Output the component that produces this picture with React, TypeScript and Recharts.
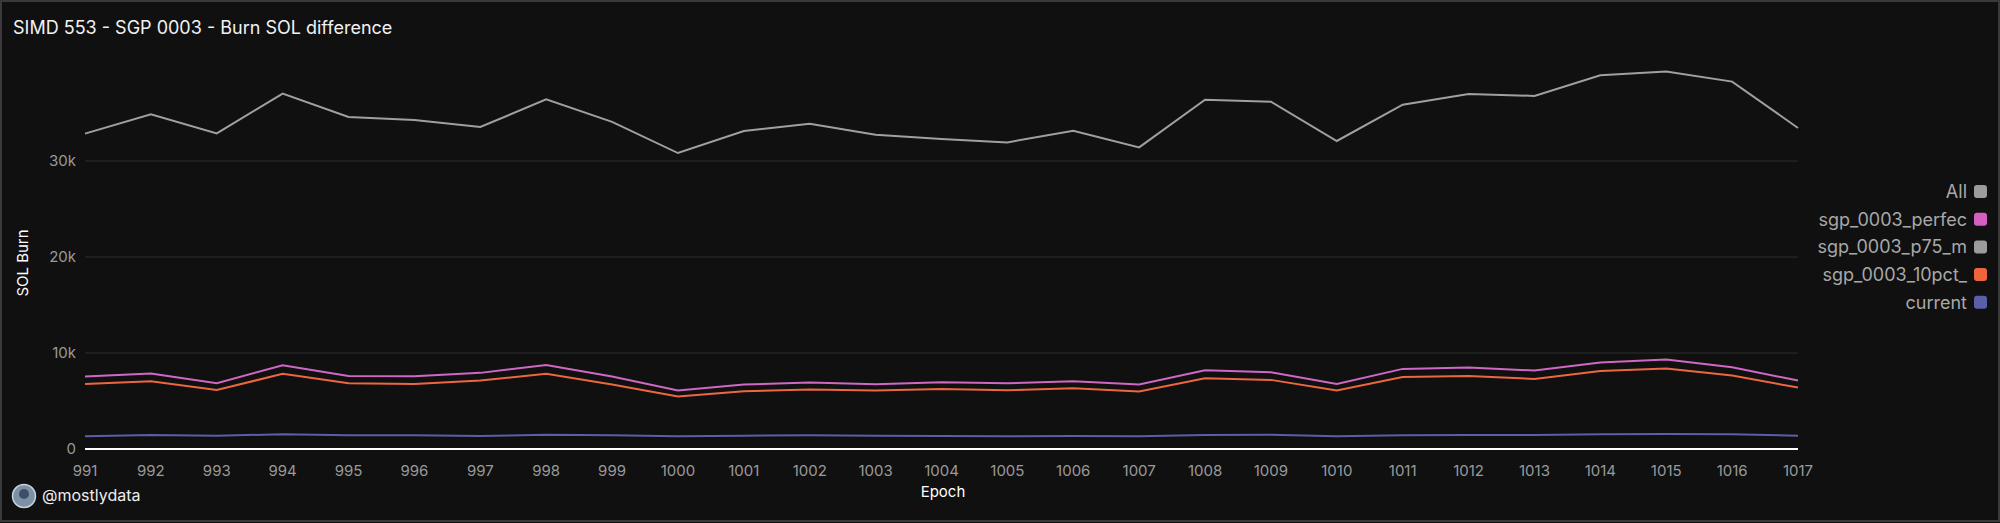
import React from "react";
import { LineChart, Line, XAxis, YAxis, CartesianGrid } from "recharts";

const epochs = ["991","992","993","994","995","996","997","998","999","1000","1001","1002","1003","1004","1005","1006","1007","1008","1009","1010","1011","1012","1013","1014","1015","1016","1017"];
const allBurn = [32850,34860,32880,37020,34590,34270,33540,36420,34070,30830,33130,33890,32740,32290,31940,33160,31420,36390,36180,32085,35870,36990,36780,38930,39310,38270,33440];
const perfectBurn = [7545,7860,6850,8730,7615,7580,7930,8760,7545,6085,6710,6920,6745,6955,6850,7060,6710,8205,7995,6780,8345,8480,8170,9005,9320,8520,7130];
const tenPctBurn = [6780,7060,6155,7825,6850,6780,7130,7825,6710,5460,6015,6190,6085,6260,6120,6330,5980,7370,7200,6085,7510,7615,7300,8135,8380,7650,6395];
const currentBurn = [1320,1460,1390,1530,1425,1425,1355,1495,1425,1320,1390,1425,1390,1355,1320,1355,1320,1460,1495,1320,1425,1460,1460,1530,1565,1530,1390];
const yTicks = [0, 10000, 20000, 30000];
const gridValues = [10000, 20000, 30000];

const legendNames = ["All", "sgp_0003_perfec", "sgp_0003_p75_m", "sgp_0003_10pct_", "current"];
const legendColors = ["#9c9c9c", "#d55fc0", "#9c9c9c", "#f0643c", "#5b5ea8"];

const data = epochs.map((e, i) => ({
  epoch: e,
  all: allBurn[i],
  perfect: perfectBurn[i],
  tenPct: tenPctBurn[i],
  current: currentBurn[i],
}));

const FONT = "Inter, 'Noto Sans', sans-serif";

export default function App() {
  return (
    <div style={{ position: "absolute", left: 0, top: 0, width: 2000, height: 523, background: "#101010", fontFamily: FONT }}>
      <LineChart width={2000} height={523} data={data} margin={{ top: 65, right: 202, bottom: 44, left: 0 }}>
        <CartesianGrid vertical={false} horizontalValues={gridValues} stroke="#2c2c2c" strokeWidth={1} />
        <XAxis
          dataKey="epoch"
          height={30}
          tickLine={false}
          axisLine={{ stroke: "#ffffff", strokeWidth: 2 }}
          tick={{ fill: "#9a9a9a", fontSize: 15, fontFamily: FONT }}
          tickMargin={10}
          interval={0}
        />
        <YAxis
          width={85}
          domain={[0, 40000]}
          ticks={yTicks}
          tickLine={false}
          axisLine={false}
          tick={{ fill: "#9a9a9a", fontSize: 15, fontFamily: FONT }}
          tickMargin={3}
          tickFormatter={(v: number) => (v === 0 ? "0" : `${v / 1000}k`)}
        />
        <Line type="linear" dataKey="all" stroke="#a0a0a0" strokeWidth={2} dot={false} isAnimationActive={false} />
        <Line type="linear" dataKey="perfect" stroke="#cf68c4" strokeWidth={2} dot={false} isAnimationActive={false} />
        <Line type="linear" dataKey="tenPct" stroke="#ec6740" strokeWidth={2} dot={false} isAnimationActive={false} />
        <Line type="linear" dataKey="current" stroke="#5b5ea8" strokeWidth={2} dot={false} isAnimationActive={false} />
      </LineChart>
      <svg width={2000} height={523} style={{ position: "absolute", left: 0, top: 0, pointerEvents: "none" }}>
        <rect x={1} y={1} width={1998} height={520} fill="none" stroke="#3a3a3a" strokeWidth={2} />
        <text x={13} y={34} fill="#f2f2f2" fontSize={18} fontFamily={FONT}>SIMD 553 - SGP 0003 - Burn SOL difference</text>
        <text x={22} y={263} fill="#ffffff" fontSize={15} fontFamily={FONT} textAnchor="middle" dominantBaseline="central" transform="rotate(-90 22 263)">SOL Burn</text>
        <text x={943} y={497} fill="#ffffff" fontSize={15} fontFamily={FONT} textAnchor="middle">Epoch</text>
        {legendNames.map((n, i) => (
          <g key={n}>
            <text x={1967} y={198 + i * 27.7} fill="#a8a8a8" fontSize={18} fontFamily={FONT} textAnchor="end">{n}</text>
            <rect x={1974} y={185 + i * 27.7} width={13} height={13} rx={3} fill={legendColors[i]} />
          </g>
        ))}
        <circle cx={24} cy={496} r={11.5} fill="#7d90a6" stroke="#c9d3dc" strokeWidth={1.5} />
        <circle cx={24} cy={494} r={5} fill="#3d4f66" />
        <text x={42} y={501} fill="#eeeeee" fontSize={16} fontFamily={FONT}>@mostlydata</text>
      </svg>
    </div>
  );
}
